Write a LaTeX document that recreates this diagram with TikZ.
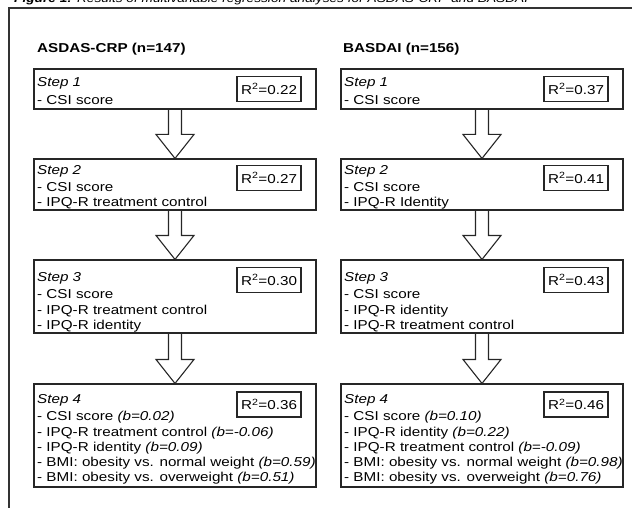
\documentclass[tikz,border=0pt]{standalone}
\usepackage{fontspec}
\setmainfont{Liberation Sans}[FakeStretch=1.18]
\usetikzlibrary{calc}
\tikzset{
  stepbox/.style={draw=black!85, line width=1.1pt, minimum width=282pt, inner sep=0pt},
  rbox/.style={draw=black!85, line width=1.1pt, minimum width=64pt, minimum height=25pt, inner sep=0pt},
  txt/.style={anchor=base west, inner sep=0pt},
  ttl/.style={anchor=base west, inner sep=0pt, font=\fontsize{12.9}{15.5}\selectfont\bfseries},
  captxt/.style={anchor=base west, inner sep=0pt, font=\fontsize{11.6}{14}\selectfont},
  blockarrow/.style={draw=black!85, line width=1.1pt, line join=miter},
  frame/.style={draw=black!80, line width=1.2pt},
}
\newcommand\blkarrow[2]{%
  \draw[blockarrow] ($(#1.south)+(-6.5,0)$) -- ($(#2.north)+(-6.5,-24)$)
    -- ($(#2.north)+(-19,-24)$) -- (#2.north) -- ($(#2.north)+(19,-24)$)
    -- ($(#2.north)+(6.5,-24)$) -- ($(#1.south)+(6.5,0)$);}
\begin{document}
\begin{tikzpicture}[x=1pt,y=-1pt,font=\fontsize{12.9}{15.5}\selectfont]
\useasboundingbox (0,0) rectangle (632,508);
% caption (cut at the top of the picture, as in the reference)
\node[captxt] (cap) at (14,3) {\textbf{\textit{Figure 1:}} \textit{Results of multivariable regression analyses for ASDAS-CRP and BASDAI}};
% outer frame
\coordinate (fr1) at (650,8);
\coordinate (fr2) at (9,8);
\coordinate (fr3) at (9,520);
\draw[frame] (fr1) -- (fr2) -- (fr3);
% titles
\node[ttl] (tL) at (37,53) {ASDAS-CRP (n=147)};
\node[ttl] (tR) at (343,53) {BASDAI (n=156)};
% boxes
\foreach \s/\cx in {L/175, R/482} {
  \node[stepbox, minimum height=40pt]  (\s1) at (\cx,89) {};
  \node[stepbox, minimum height=51pt]  (\s2) at (\cx,184.5) {};
  \node[stepbox, minimum height=73pt]  (\s3) at (\cx,296.5) {};
  \node[stepbox, minimum height=103pt] (\s4) at (\cx,435.5) {};
  \blkarrow{\s1}{\s2}
  \blkarrow{\s2}{\s3}
  \blkarrow{\s3}{\s4}
}
% R^2 boxes
\node[rbox] (rL1) at (269,89) {R\textsuperscript{2}=0.22};
\node[rbox] (rL2) at (269,178) {R\textsuperscript{2}=0.27};
\node[rbox] (rL3) at (269,280) {R\textsuperscript{2}=0.30};
\node[rbox] (rL4) at (269,404.5) {R\textsuperscript{2}=0.36};
\node[rbox] (rR1) at (576,89) {R\textsuperscript{2}=0.37};
\node[rbox] (rR2) at (576,178) {R\textsuperscript{2}=0.41};
\node[rbox] (rR3) at (576,280) {R\textsuperscript{2}=0.43};
\node[rbox] (rR4) at (576,404.5) {R\textsuperscript{2}=0.46};
% texts common to both columns
\foreach \x/\s in {37/L, 344/R} {
  \node[txt] (s\s1) at (\x,86.5) {\textit{Step 1}};
  \node[txt] (s\s2) at (\x,174.5) {\textit{Step 2}};
  \node[txt] (s\s3) at (\x,281.5) {\textit{Step 3}};
  \node[txt] (s\s4) at (\x,403) {\textit{Step 4}};
  \node[txt] (a\s1) at (\x,104.5) {- CSI score};
  \node[txt] (a\s2) at (\x,191) {- CSI score};
  \node[txt] (a\s3) at (\x,298) {- CSI score};
}
% texts, left column
\node[txt] (bL2) at (37,206) {- IPQ-R treatment control};
\node[txt] (bL3) at (37,314.5) {- IPQ-R treatment control};
\node[txt] (cL3) at (37,329.5) {- IPQ-R identity};
\node[txt] (aL4) at (37,420.5) {- CSI score \textit{(b=0.02)}};
\node[txt] (bL4) at (37,436) {- IPQ-R treatment control \textit{(b=-0.06)}};
\node[txt] (cL4) at (37,451) {- IPQ-R identity \textit{(b=0.09)}};
\node[txt] (dL4) at (37,466.5) {- BMI: obesity vs. normal weight \textit{(b=0.59)}};
\node[txt] (eL4) at (37,481.5) {- BMI: obesity vs. overweight \textit{(b=0.51)}};
% texts, right column
\node[txt] (bR2) at (344,206) {- IPQ-R Identity};
\node[txt] (bR3) at (344,314.5) {- IPQ-R identity};
\node[txt] (cR3) at (344,329.5) {- IPQ-R treatment control};
\node[txt] (aR4) at (344,420.5) {- CSI score \textit{(b=0.10)}};
\node[txt] (bR4) at (344,436) {- IPQ-R identity \textit{(b=0.22)}};
\node[txt] (cR4) at (344,451) {- IPQ-R treatment control \textit{(b=-0.09)}};
\node[txt] (dR4) at (344,466.5) {- BMI: obesity vs. normal weight \textit{(b=0.98)}};
\node[txt] (eR4) at (344,481.5) {- BMI: obesity vs. overweight \textit{(b=0.76)}};
\end{tikzpicture}
\end{document}
